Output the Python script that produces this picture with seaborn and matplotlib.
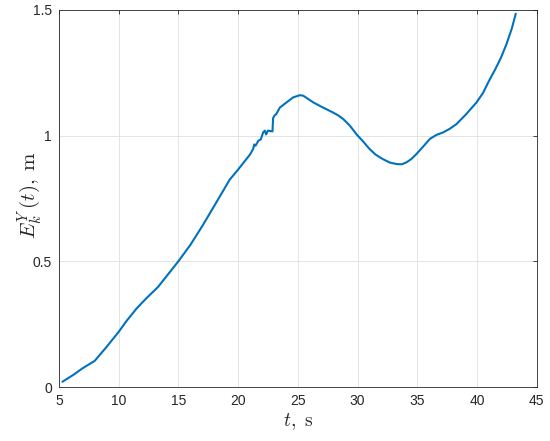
import matplotlib
matplotlib.use("Agg")
import matplotlib.pyplot as plt
import seaborn as sns
import pandas as pd

t_values = [5.3, 5.6, 6.2, 7.0, 8.0, 9.0, 10.0, 10.7, 11.5, 12.3, 13.3, 14.0, 15.0, 16.0, 17.0,
            18.0, 19.3, 20.0, 20.5, 21.0, 21.26, 21.35, 21.46, 21.7, 21.9, 22.1, 22.24,
            22.35, 22.5, 22.88, 22.93, 23.05, 23.2, 23.5, 24.05, 24.6, 25.17, 25.45,
            26.3, 27.1, 27.95, 28.4, 28.8, 29.35, 29.9, 30.5, 31.0, 31.5, 32.1, 32.7,
            33.26, 33.7, 34.1, 34.5, 34.93, 35.5, 36.05, 36.6, 37.16, 37.7, 38.28, 39.1,
            39.95, 40.5, 41.0, 41.5, 42.0, 42.46, 42.9, 43.24]
e_values = [0.021, 0.03, 0.048, 0.075, 0.104, 0.16, 0.219, 0.265, 0.312, 0.352, 0.398,
            0.44, 0.5, 0.565, 0.64, 0.72, 0.825, 0.865, 0.895, 0.925, 0.947, 0.965, 0.96,
            0.98, 0.985, 1.013, 1.02, 1.005, 1.02, 1.017, 1.07, 1.08, 1.086, 1.112, 1.132,
            1.152, 1.161, 1.159, 1.132, 1.112, 1.092, 1.08, 1.066, 1.04, 1.006, 0.975,
            0.947, 0.925, 0.907, 0.893, 0.887, 0.886, 0.894, 0.907, 0.927, 0.957, 0.987,
            1.003, 1.013, 1.027, 1.046, 1.086, 1.132, 1.17, 1.218, 1.262, 1.31, 1.364,
            1.425, 1.485]
x_ticks = [5, 10, 15, 20, 25, 30, 35, 40, 45]
y_ticks = [0, 0.5, 1, 1.5]
y_tick_labels = ["0", "0.5", "1", "1.5"]

df = pd.DataFrame({"t": t_values, "E": e_values})

sns.set_style("whitegrid")
plt.rcParams["font.family"] = ["Liberation Sans", "DejaVu Sans"]
plt.rcParams["mathtext.fontset"] = "cm"

fig = plt.figure(figsize=(5.5, 4.41), dpi=100)
ax = fig.add_axes([0.107, 0.1224, 0.869, 0.855])

sns.lineplot(data=df, x="t", y="E", sort=False, color="#0072BD", linewidth=1.5, ax=ax)

ax.set_xlim(5, 45)
ax.set_ylim(0, 1.5)
ax.set_xticks(x_ticks)
ax.set_xticklabels([str(v) for v in x_ticks])
ax.set_yticks(y_ticks)
ax.set_yticklabels(y_tick_labels)
ax.grid(True, color="#DFDFDF", linewidth=0.6)
for s in ax.spines.values():
    s.set_color("#262626")
    s.set_linewidth(0.6)
    s.set_visible(True)
ax.tick_params(direction="in", length=3, width=0.6, colors="#262626",
               labelsize=10, top=True, right=True, labeltop=False, labelright=False,
               pad=5)
ax.set_xlabel(r"$t,\ \mathrm{s}$", fontsize=14, labelpad=2)
ax.set_ylabel(r"$E_k^Y\,(t),\;\mathrm{m}$", fontsize=15)
ax.yaxis.set_label_coords(-0.032, 0.51)

fig.savefig("out.png", dpi=100)
